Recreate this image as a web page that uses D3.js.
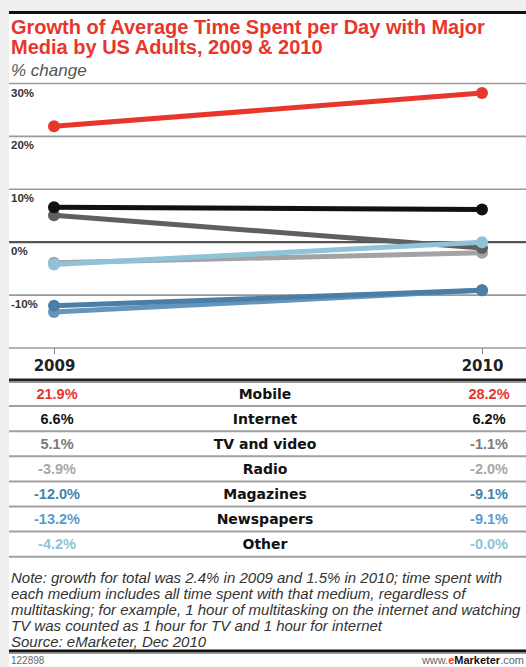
<!DOCTYPE html>
<html>
<head>
<meta charset="utf-8">
<script src="https://cdn.jsdelivr.net/npm/d3@7"></script>
<style>
body { margin: 0; background: #efefef; }
svg { display: block; font-family: "Liberation Sans", Arial, sans-serif; }
</style>
</head>
<body>
<svg id="chart" width="526" height="667"></svg>
<script>
// data
var years = ['2009', '2010'];
var media = ['Mobile', 'Internet', 'TV and video', 'Radio', 'Magazines', 'Newspapers', 'Other'];
var val2009 = [21.9, 6.6, 5.1, -3.9, -12.0, -13.2, -4.2];
var val2010 = [28.2, 6.2, -1.1, -2.0, -9.1, -9.1, -0.0];
var lineColors = ['#e8362c', '#111111', '#5f5f5f', '#a3a3a3', '#4b7ea6', '#6496bd', '#8fc3da'];
var textColors = ['#e8362c', '#111111', '#7a7a7a', '#a8a8a8', '#3f83b0', '#5a9ccb', '#8ec3dc'];
var yTicks = [30, 20, 10, 0, -10, -20];
var noteLines = [
    'Note: growth for total was 2.4% in 2009 and 1.5% in 2010; time spent with',
    'each medium includes all time spent with that medium, regardless of',
    'multitasking; for example, 1 hour of multitasking on the internet and watching',
    'TV was counted as 1 hour for TV and 1 hour for internet',
    'Source: eMarketer, Dec 2010'
];

var svg = d3.select('#chart');
var W = 526, left = 9;
var boldFont = '"DejaVu Sans", Verdana, sans-serif';

// background panel
svg.append('rect').attr('x', left).attr('y', 11).attr('width', W - left).attr('height', 667 - 11).attr('fill', '#fff');
svg.append('line').attr('x1', left).attr('x2', W).attr('y1', 12.5).attr('y2', 12.5).attr('stroke', '#111').attr('stroke-width', 3);

// title
var title = svg.append('text').attr('x', 11).attr('fill', '#e8362c')
    .attr('font-weight', 'bold').attr('font-size', 20);
title.append('tspan').attr('x', 11).attr('y', 34).text('Growth of Average Time Spent per Day with Major');
title.append('tspan').attr('x', 11).attr('y', 54).text('Media by US Adults, 2009 & 2010');
svg.append('text').attr('x', 11).attr('y', 76).attr('font-style', 'italic')
    .attr('font-size', 17).attr('fill', '#555').text('% change');

// scales
var x = d3.scalePoint().domain(years).range([54, 482]);
var y = d3.scaleLinear().domain([-20, 30]).range([348, 83.5]);

// grid
svg.append('g').selectAll('line').data(yTicks).join('line')
    .attr('x1', left).attr('x2', W)
    .attr('y1', d => y(d)).attr('y2', d => y(d))
    .attr('stroke', d => d === 0 ? '#555' : '#9a9a9a')
    .attr('stroke-width', d => d === 0 ? 2.2 : 1.6);

svg.append('g').selectAll('text').data(yTicks.filter(d => d > -20)).join('text')
    .attr('x', 11).attr('y', d => y(d) + 13)
    .attr('font-size', 11.5).attr('font-weight', 'bold').attr('fill', '#333')
    .text(d => d + '%');

// x axis
var xAxis = svg.append('g').attr('transform', 'translate(0,' + y(-20) + ')')
    .call(d3.axisBottom(x).tickSize(6).tickPadding(6));
xAxis.select('.domain').remove();
xAxis.selectAll('line').attr('stroke', '#888');
xAxis.selectAll('text').attr('font-size', 15).attr('font-weight', 'bold')
    .attr('fill', '#222').attr('font-family', boldFont);

// lines, lighter ones first so Mobile ends on top
var series = media.map(function(m, i){
    return { name: m, color: lineColors[i], pts: [[years[0], val2009[i]], [years[1], val2010[i]]] };
});
var lineGen = d3.line().x(d => x(d[0])).y(d => y(d[1]));
var order = [3, 2, 6, 5, 4, 1, 0];
var g = svg.append('g');
order.forEach(function(i){
    var s = series[i];
    g.append('path').attr('d', lineGen(s.pts)).attr('fill', 'none')
        .attr('stroke', s.color).attr('stroke-width', 5).attr('stroke-linecap', 'round');
    g.selectAll(null).data(s.pts).join('circle')
        .attr('cx', d => x(d[0])).attr('cy', d => y(d[1])).attr('r', 6)
        .attr('fill', s.color);
});

// table
var tTop = 381, rowH = 25.1;
svg.append('line').attr('x1', left).attr('x2', W).attr('y1', tTop - 1).attr('y2', tTop - 1)
    .attr('stroke', '#222').attr('stroke-width', 3);
svg.append('line').attr('x1', left).attr('x2', W).attr('y1', tTop + 1.5).attr('y2', tTop + 1.5)
    .attr('stroke', '#999').attr('stroke-width', 1);
var rows = svg.append('g').selectAll('g').data(media).join('g')
    .attr('transform', (d, i) => 'translate(0,' + (tTop + rowH * i) + ')');
rows.append('line').attr('x1', left).attr('x2', W)
    .attr('y1', rowH).attr('y2', rowH)
    .attr('stroke', '#a0a0a0').attr('stroke-width', 2);
rows.append('text').attr('x', 265).attr('y', rowH / 2 + 5).attr('text-anchor', 'middle')
    .attr('font-family', boldFont)
    .attr('font-size', 14).attr('font-weight', 'bold').attr('fill', '#111').text(d => d);
rows.append('text').attr('x', 57).attr('y', rowH / 2 + 5).attr('text-anchor', 'middle')
    .attr('font-size', 14.5).attr('font-weight', 'bold').attr('fill', (d, i) => textColors[i])
    .text((d, i) => val2009[i].toFixed(1) + '%');
rows.append('text').attr('x', 489).attr('y', rowH / 2 + 5).attr('text-anchor', 'middle')
    .attr('font-size', 14.5).attr('font-weight', 'bold').attr('fill', (d, i) => textColors[i])
    .text((d, i) => (val2010[i] === 0 ? '-0.0' : val2010[i].toFixed(1)) + '%');

// note
svg.append('g').selectAll('text').data(noteLines).join('text')
    .attr('x', 11).attr('y', (d, i) => 583 + i * 16)
    .attr('font-size', 15).attr('font-style', 'italic').attr('fill', '#333')
    .text(d => d);

// footer
svg.append('line').attr('x1', left).attr('x2', W).attr('y1', 651).attr('y2', 651)
    .attr('stroke', '#111').attr('stroke-width', 3);
svg.append('line').attr('x1', left).attr('x2', W).attr('y1', 653.5).attr('y2', 653.5)
    .attr('stroke', '#999').attr('stroke-width', 1);
svg.append('text').attr('x', 11).attr('y', 664).attr('font-size', 10).attr('fill', '#666').text('122898');
var site = svg.append('text').attr('x', 524).attr('y', 664).attr('text-anchor', 'end').attr('font-size', 11).attr('fill', '#666');
site.append('tspan').text('www.');
site.append('tspan').attr('fill', '#e8362c').attr('font-weight', 'bold').text('e');
site.append('tspan').attr('fill', '#111').attr('font-weight', 'bold').text('Marketer');
site.append('tspan').text('.com');
</script>
</body>
</html>
